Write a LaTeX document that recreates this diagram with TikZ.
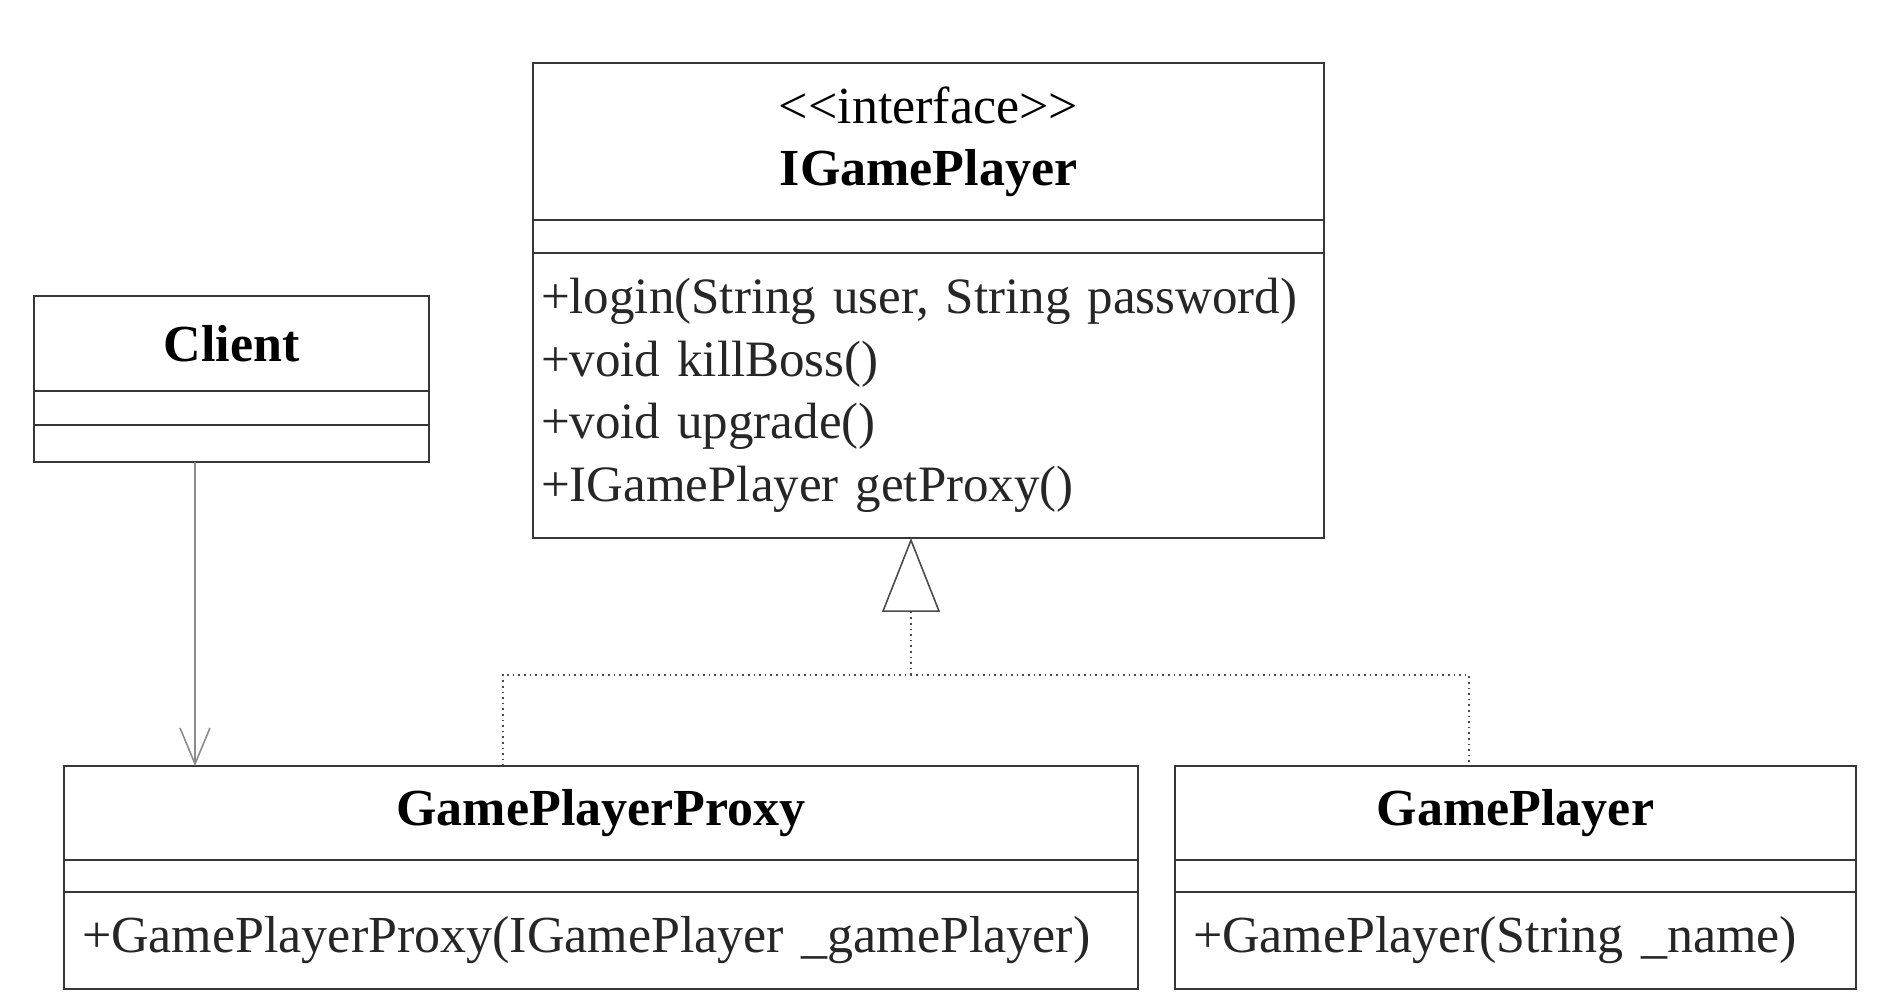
\documentclass[tikz,border=0pt]{standalone}
\usepackage{fontspec}
\setmainfont{Liberation Serif}
\usepackage{tikz}
\usetikzlibrary{positioning, arrows.meta, calc}
\definecolor{edge}{RGB}{55,55,55}
\newcommand{\umlfont}{\fontsize{26}{31}\selectfont}
\tikzset{
  cls/.style={draw=edge, line width=0.9pt, inner sep=0pt, outer sep=0pt,
    minimum width=#1, align=center, font=\umlfont\bfseries},
  gap/.style={draw=edge, line width=0.9pt, inner sep=0pt, outer sep=0pt,
    minimum width=#1},
  ops/.style={draw=edge, line width=0.9pt, inner ysep=0pt, inner xsep=9pt,
    outer sep=0pt, text width=#1, align=left, text=black!85},
  uses/.style={-{Straight Barb[length=18pt,width=15pt]}, line width=0.8pt, draw=black!45},
  real/.style={dotted, line width=0.8pt, draw=black!70},
  realtip/.style={real, -{Triangle[open,length=37pt,width=29pt]}}
}

\begin{document}
\begin{tikzpicture}[x=1pt, y=-1pt, font=\umlfont]
  \useasboundingbox (0,0) rectangle (950,502);
  % interface
  \node[cls=395.5pt, minimum height=78.5pt, anchor=north west] (iname) at (266.5,31.5)
    {{\mdseries {<}{<}interface{>}{>}}\\IGamePlayer};
  \node[gap=395.5pt, minimum height=16.5pt, below=0pt of iname] (iattr) {};
  \node[ops=387.5pt, inner xsep=4pt, minimum height=142.5pt, below=0pt of iattr,
    font=\fontsize{25.5}{31.3}\selectfont] (iops)
    {\mbox{+login(String user, String password)}\\+void killBoss()\\+void upgrade()\\+IGamePlayer getProxy()};
  % client
  \node[cls=197.5pt, minimum height=47.5pt, anchor=north west] (cname) at (17,148) {Client};
  \node[gap=197.5pt, minimum height=17pt, below=0pt of cname] (cattr) {};
  \node[gap=197.5pt, minimum height=18.5pt, below=0pt of cattr] (cops) {};
  % proxy
  \node[cls=537pt, minimum height=47pt, anchor=north west] (pname) at (32,383) {GamePlayerProxy};
  \node[gap=537pt, minimum height=16pt, below=0pt of pname] (pattr) {};
  \node[ops=519pt, minimum height=48.5pt, below=0pt of pattr] (pops)
    {+GamePlayerProxy(IGamePlayer \_gamePlayer)};
  % real subject
  \node[cls=340.5pt, minimum height=47pt, anchor=north west] (gname) at (587.5,383) {GamePlayer};
  \node[gap=340.5pt, minimum height=16pt, below=0pt of gname] (gattr) {};
  \node[ops=322.5pt, minimum height=48.5pt, below=0pt of gattr] (gops)
    {+GamePlayer(String \_name)};

  % client uses proxy
  \coordinate (cfoot) at ($(cops.south west)+(80.5,0)$);
  \draw[uses] (cfoot) -- (cfoot |- pname.north);
  % both realise the interface
  \coordinate (pfoot) at ($(pname.north west)+(219.5,0)$);
  \coordinate (gfoot) at ($(gname.north west)+(147,0)$);
  \coordinate (join) at (455.5,337.5);
  \draw[real] (pfoot) |- (join) -| (gfoot);
  \draw[realtip] (join) -- (join |- iops.south);
\end{tikzpicture}
\end{document}
